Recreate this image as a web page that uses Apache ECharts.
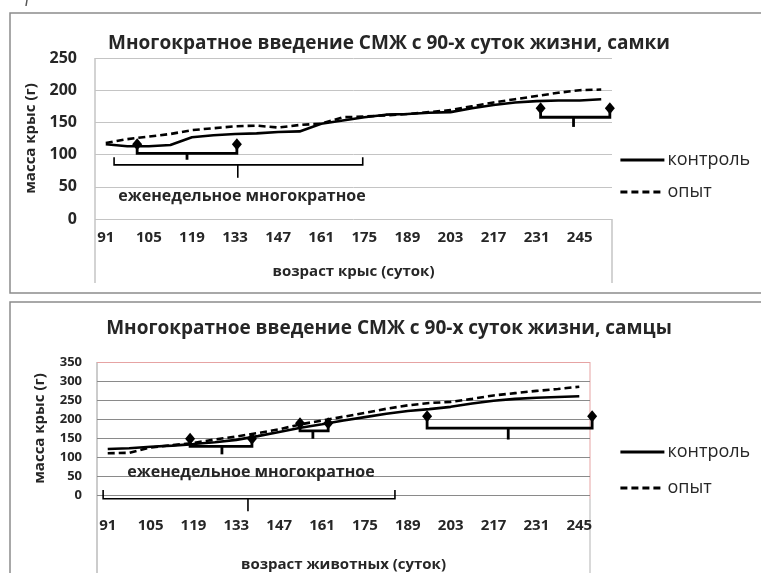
<!DOCTYPE html>
<html><head><meta charset="utf-8">
<script src="https://cdn.jsdelivr.net/npm/echarts@6/dist/echarts.min.js"></script>
<style>html,body{margin:0;padding:0;background:#fff}#c{width:761px;height:573px}</style>
</head><body><div id="c"></div>
<script>
// ---- data ----
const femaleDays = ['91','98','105','112','119','126','133','140','147','154','161','168','175','182','189','196','203','210','217','224','231','238','245','252'];
const femaleControl = [116,113,113,115,127,130,132,133,135,136,148,153,158,162,163,165,166,172,177,181,183,184,184,186];
const femaleExp = [118,124,128,132,138,141,144,145,142,146,148,158,159,161,163,166,169,175,181,186,191,196,200,201];

const maleDays = ['91','98','105','112','119','126','133','140','147','154','161','168','175','182','189','196','203','210','217','224','231','238','245'];
const maleControl = [121,123,127,130,134,139,145,155,166,177,186,196,205,214,221,226,232,241,248,253,256,258,260];
const maleExp = [110,111,125,131,137,146,154,163,173,186,196,206,216,227,236,242,245,253,262,268,274,279,285];

const femaleTicks = [0,50,100,150,200,250];
const maleTicks = [0,50,100,150,200,250,300,350];

// annotation brackets in data units: [dayFrom, dayTo, endY, barY, tickDay, tickY, diamonds]
const femaleBrackets = [
  [101.2, 133.6, 116, 102, 117.4, 92, 1],
  [93.7, 174.5, 96, 84, 133.9, 64, 0],
  [232.3, 254.8, 172, 158, 243, 143, 1]
];
const maleBrackets = [
  [117.9, 138.1, 148, 128, 128.3, 107, 1],
  [153.8, 163.0, 189, 169, 158, 148, 1],
  [195.3, 249.2, 207, 176, 221.8, 146, 1],
  [89.5, 184.8, 13, -10, 136.8, -43, 0]
];
const seriesNames = ['контроль','опыт'];
const titles = ['Многократное введение СМЖ с 90-х суток жизни, самки','Многократное введение СМЖ с 90-х суток жизни, самцы'];
const noteText = 'еженедельное многократное';

// ---- chart ----
const FF = '"Open Sans", "Noto Sans", sans-serif';
const TXT = '#262626';
const chart = echarts.init(document.getElementById('c'), null, {renderer:'canvas'});

function bracketSeries(list, xi, yi){
  return {
    type:'custom', xAxisIndex:xi, yAxisIndex:yi, clip:false, silent:true, z:5,
    data:list.map(()=>[0,0]),
    renderItem:function(params, api){
      const b = list[params.dataIndex];
      const toPx = function(day, v){
        const p0 = api.coord([0, v]); const p1 = api.coord([1, v]);
        const f = (day-91)/7;
        return [p0[0] + (p1[0]-p0[0])*f, p0[1]];
      };
      const a1 = toPx(b[0], b[2]), a2 = toPx(b[0], b[3]), a3 = toPx(b[1], b[3]), a4 = toPx(b[1], b[2]);
      const t1 = toPx(b[4], b[3]), t2 = toPx(b[4], b[5]);
      const w = b[6] ? 2.8 : 1.6;
      const children = [
        {type:'polyline', shape:{points:[a1,a2,a3,a4]}, style:{stroke:'#000', lineWidth:w, fill:null}},
        {type:'line', shape:{x1:t1[0],y1:t1[1],x2:t2[0],y2:t2[1]}, style:{stroke:'#000', lineWidth:w}}
      ];
      if (b[6]) {
        [a1,a4].forEach(function(p){
          children.push({type:'polygon', shape:{points:[[p[0],p[1]-6],[p[0]+5,p[1]],[p[0],p[1]+6],[p[0]-5,p[1]]]}, style:{fill:'#000'}});
        });
      }
      return {type:'group', children:children};
    }
  };
}

function lineSeries(name, data, xi, yi, dashed){
  return {
    name:name, type:'line', data:data, xAxisIndex:xi, yAxisIndex:yi,
    symbol:'none', smooth:false, z:4,
    lineStyle:{color:'#000', width:2.6, type: dashed ? [7,4] : 'solid'},
    itemStyle:{color:'#000'}
  };
}

const legendBase = {orient:'vertical', left:614, itemWidth:44, itemHeight:14,
  itemStyle:{opacity:0}, lineStyle:{width:2.8},
  textStyle:{fontFamily:FF, fontSize:18, color:TXT, lineHeight:22, padding:[0,0,0,-2]}};

const option = {
  animation:false,
  backgroundColor:'#fff',
  textStyle:{fontFamily:FF},
  title:[
    {text:titles[0], left:384, top:29, textAlign:'center', textStyle:{fontFamily:FF, fontSize:19, fontWeight:'bold', color:TXT}},
    {text:titles[1], left:384, top:314, textAlign:'center', textStyle:{fontFamily:FF, fontSize:19, fontWeight:'bold', color:TXT}}
  ],
  legend:[
    Object.assign({}, legendBase, {data:seriesNames, top:144, itemGap:10}),
    Object.assign({}, legendBase, {data:seriesNames, top:436, itemGap:14})
  ],
  grid:[
    {left:95, top:58, width:517, height:161},
    {left:97, top:362, width:493, height:137}
  ],
  xAxis:[
    {type:'category', gridIndex:0, data:femaleDays, boundaryGap:true,
     axisLine:{show:false}, axisTick:{show:false},
     axisLabel:{interval:1, margin:11, fontFamily:FF, fontSize:15, fontWeight:'bold', color:TXT},
     name:'возраст крыс (суток)', nameLocation:'middle', nameGap:45,
     nameTextStyle:{fontFamily:FF, fontSize:15, fontWeight:'bold', color:TXT}},
    {type:'category', gridIndex:1, data:maleDays, boundaryGap:true,
     axisLine:{show:false}, axisTick:{show:false},
     axisLabel:{interval:1, margin:23, fontFamily:FF, fontSize:15, fontWeight:'bold', color:TXT},
     name:'возраст животных (суток)', nameLocation:'middle', nameGap:62,
     nameTextStyle:{fontFamily:FF, fontSize:15, fontWeight:'bold', color:TXT}}
  ],
  yAxis:[
    {type:'value', gridIndex:0, min:femaleTicks[0], max:femaleTicks[femaleTicks.length-1], interval:50,
     axisLine:{show:false}, axisTick:{show:false},
     splitLine:{lineStyle:{color:'#c4c4c4', width:1}},
     axisLabel:{margin:18, fontFamily:FF, fontSize:16, fontWeight:'bold', color:TXT},
     name:'масса крыс (г)', nameLocation:'middle', nameGap:54, nameRotate:90,
     nameTextStyle:{fontFamily:FF, fontSize:15, fontWeight:'bold', color:TXT}},
    {type:'value', gridIndex:1, min:maleTicks[0], max:maleTicks[maleTicks.length-1], interval:50,
     axisLine:{show:false}, axisTick:{show:false},
     splitLine:{lineStyle:{color:['#8a8a8a','#8a8a8a','#8a8a8a','#8a8a8a','#8a8a8a','#8a8a8a','#8a8a8a','#e6a3a3'], width:1}},
     axisLabel:{margin:15, fontFamily:FF, fontSize:13, fontWeight:'bold', color:TXT},
     name:'масса крыс (г)', nameLocation:'middle', nameGap:50, nameRotate:90,
     nameTextStyle:{fontFamily:FF, fontSize:15, fontWeight:'bold', color:TXT}}
  ],
  graphic:[
    {type:'rect', shape:{x:10, y:13, width:800, height:280}, style:{stroke:'#8c8c8c', lineWidth:1.5, fill:null}, z:-1},
    {type:'rect', shape:{x:10, y:302, width:800, height:320}, style:{stroke:'#8c8c8c', lineWidth:1.5, fill:null}, z:-1},
    {type:'line', shape:{x1:27, y1:0, x2:26, y2:6}, style:{stroke:'#555', lineWidth:1.5}},
    {type:'line', shape:{x1:95, y1:58, x2:95, y2:283}, style:{stroke:'#c4c4c4', lineWidth:1.5}},
    {type:'line', shape:{x1:612, y1:219, x2:612, y2:283}, style:{stroke:'#c4c4c4', lineWidth:1.5}},
    {type:'line', shape:{x1:97, y1:362, x2:97, y2:573}, style:{stroke:'#bbbbbb', lineWidth:1.5}},
    {type:'line', shape:{x1:590, y1:362, x2:590, y2:499}, style:{stroke:'#e6a3a3', lineWidth:1}},
    {type:'line', shape:{x1:590, y1:499, x2:590, y2:573}, style:{stroke:'#cccccc', lineWidth:1.5}},
    {type:'text', style:{text:noteText, x:242, y:196, textAlign:'center', textVerticalAlign:'middle', font:'bold 16px "Open Sans", sans-serif', fill:TXT}, z:10},
    {type:'text', style:{text:noteText, x:251, y:472, textAlign:'center', textVerticalAlign:'middle', font:'bold 16px "Open Sans", sans-serif', fill:TXT}, z:10}
  ],
  series:[
    lineSeries(seriesNames[0], femaleControl, 0, 0, false),
    lineSeries(seriesNames[1], femaleExp, 0, 0, true),
    lineSeries(seriesNames[0], maleControl, 1, 1, false),
    lineSeries(seriesNames[1], maleExp, 1, 1, true),
    bracketSeries(femaleBrackets, 0, 0),
    bracketSeries(maleBrackets, 1, 1)
  ]
};
chart.setOption(option);
</script></body></html>
